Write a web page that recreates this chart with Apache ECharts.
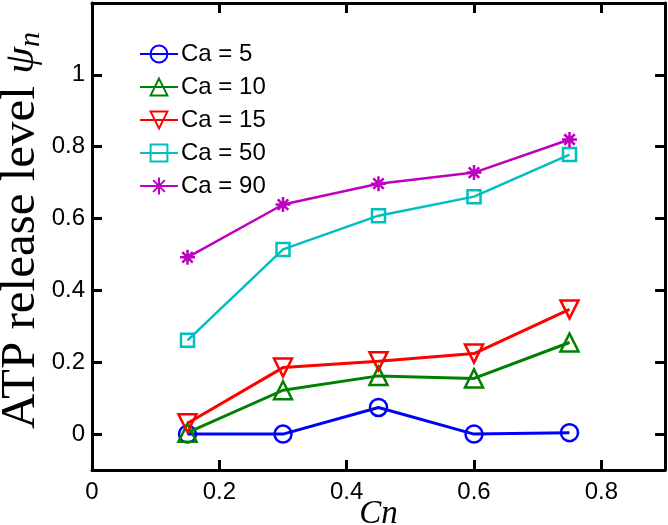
<!DOCTYPE html>
<html>
<head>
<meta charset="utf-8">
<script src="https://cdn.jsdelivr.net/npm/echarts@6/dist/echarts.min.js"></script>
<style>html,body{margin:0;padding:0;background:#fff}#c{width:668px;height:525px}</style>
</head>
<body>
<div id="c"></div>
<script>
const cn = [0.15, 0.30, 0.45, 0.60, 0.75];
const ca5 = [0.000, 0.000, 0.074, 0.000, 0.004];
const ca10 = [0.004, 0.122, 0.162, 0.155, 0.255];
const ca15 = [0.030, 0.185, 0.203, 0.224, 0.347];
const ca50 = [0.261, 0.514, 0.608, 0.661, 0.778];
const ca90 = [0.492, 0.639, 0.697, 0.728, 0.820];
const seriesNames = ['Ca = 5', 'Ca = 10', 'Ca = 15', 'Ca = 50', 'Ca = 90'];
const xTicks = [0, 0.2, 0.4, 0.6, 0.8];
const yTicks = [0, 0.2, 0.4, 0.6, 0.8, 1];

const colors = ['#0000FF', '#008000', '#FF0000', '#00BFBF', '#BF00BF'];
const values = [ca5, ca10, ca15, ca50, ca90];
const starPath = 'path://M10,0L10,20M0,10L20,10M3,3L17,17M3,17L17,3';
const symbols = [
  {symbol: 'circle', size: 17, rot: 0},
  {symbol: 'triangle', size: 18, rot: 0},
  {symbol: 'triangle', size: 18, rot: 180},
  {symbol: 'rect', size: 13, rot: 0},
  {symbol: starPath, size: 15, rot: 0}
];
const lw = [3, 3, 3, 2.5, 2.5];

const series = values.map((v, i) => ({
  name: seriesNames[i],
  type: 'line',
  data: cn.map((x, j) => [x, v[j]]),
  symbol: symbols[i].symbol,
  symbolSize: symbols[i].size,
  symbolRotate: symbols[i].rot,
  symbolKeepAspect: true,
  showAllSymbol: true,
  lineStyle: {color: colors[i], width: lw[i]},
  itemStyle: {color: 'rgba(0,0,0,0)', borderColor: colors[i], borderWidth: 2.5},
  emphasis: {disabled: true},
  animation: false,
  z: 2 + i
}));

const font = 'Liberation Sans, Arial, Helvetica, sans-serif';
const serif = 'Liberation Serif, Times New Roman, serif';

const axisCommon = {
  axisLine: {show: true, onZero: false, lineStyle: {color: '#000', width: 3}},
  splitLine: {show: false}
};

const chart = echarts.init(document.getElementById('c'), null, {renderer: 'canvas'});
chart.setOption({
  animation: false,
  backgroundColor: '#fff',
  grid: {left: 92, right: 3, top: 3, bottom: 55, containLabel: false, outerBoundsMode: 'none'},
  legend: {
    orient: 'vertical',
    left: 134, top: 37,
    itemWidth: 38, itemHeight: 21, itemGap: 9,
    textStyle: {fontFamily: font, fontSize: 24, color: '#000', padding: [0, 0, 0, -2]},
    data: seriesNames
  },
  xAxis: [
    Object.assign({
      type: 'value', min: 0, max: 0.9, position: 'bottom',
      name: '{i|Cn}', nameLocation: 'middle', nameGap: 28, nameMoveOverlap: false,
      nameTextStyle: {rich: {i: {fontFamily: serif, fontStyle: 'italic', fontSize: 33, color: '#000'}}},
      axisTick: {show: true, inside: true, length: 10, customValues: xTicks, lineStyle: {color: '#000', width: 3}},
      axisLabel: {show: true, customValues: xTicks, margin: 10, fontFamily: font, fontSize: 24, color: '#000',
        formatter: v => String(v)}
    }, axisCommon),
    Object.assign({
      type: 'value', min: 0, max: 0.9, position: 'top',
      axisTick: {show: true, inside: true, length: 10, customValues: xTicks, lineStyle: {color: '#000', width: 3}},
      axisLabel: {show: false}
    }, axisCommon)
  ],
  yAxis: [
    Object.assign({
      type: 'value', min: -0.1, max: 1.2, position: 'left',
      name: '{a|ATP release level }{b|ψ}{c|n}', nameLocation: 'middle', nameGap: 46, nameMoveOverlap: false,
      nameTextStyle: {padding: [0, 0, 0, 12], rich: {
        a: {fontFamily: serif, fontSize: 49, color: '#000'},
        b: {fontFamily: serif, fontStyle: 'italic', fontSize: 43, color: '#000'},
        c: {fontFamily: serif, fontStyle: 'italic', fontSize: 30, color: '#000', verticalAlign: 'bottom', padding: [14, 0, 0, 0]}
      }},
      axisTick: {show: true, inside: true, length: 10, customValues: yTicks, lineStyle: {color: '#000', width: 3}},
      axisLabel: {show: true, customValues: yTicks, margin: 7, fontFamily: font, fontSize: 24, color: '#000',
        formatter: v => String(v)}
    }, axisCommon),
    Object.assign({
      type: 'value', min: -0.1, max: 1.2, position: 'right',
      axisTick: {show: true, inside: true, length: 10, customValues: yTicks, lineStyle: {color: '#000', width: 3}},
      axisLabel: {show: false}
    }, axisCommon)
  ],
  series: series
});
</script>
</body>
</html>
